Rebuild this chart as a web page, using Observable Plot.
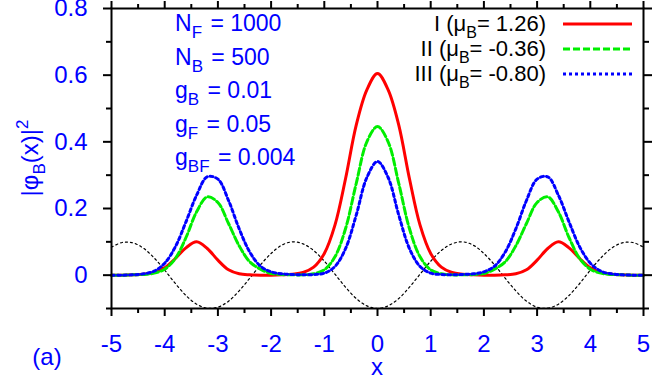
<!DOCTYPE html>
<html><head><meta charset="utf-8">
<script src="https://cdn.jsdelivr.net/npm/d3@7"></script>
<script src="https://cdn.jsdelivr.net/npm/@observablehq/plot@0.6"></script>
<style>
body{margin:0;background:#fff}
svg{font-family:"Liberation Sans",Arial,Helvetica,sans-serif}
</style>
</head><body><div id="chart"></div>
<script>
const xs = [-5,-4.8,-4.6,-4.4,-4.2,-4,-3.8,-3.6,-3.4,-3.2,-3,-2.8,-2.6,-2.4,-2.2,-2,-1.8,-1.6,-1.4,-1.2,-1,-0.8,-0.6,-0.4,-0.2,0,0.2,0.4,0.6,0.8,1,1.2,1.4,1.6,1.8,2,2.2,2.4,2.6,2.8,3,3.2,3.4,3.6,3.8,4,4.2,4.4,4.6,4.8,5];
const seriesI = [0,0,0.001,0.003,0.008,0.022,0.05,0.082,0.1,0.08,0.045,0.016,0.004,0.001,0,0,0.001,0.003,0.008,0.024,0.065,0.15,0.29,0.45,0.556,0.605,0.556,0.45,0.29,0.15,0.065,0.024,0.008,0.003,0.001,0,0,0.001,0.004,0.016,0.045,0.08,0.1,0.082,0.05,0.022,0.008,0.003,0.001,0,0];
const seriesII = [0,0,0.001,0.002,0.006,0.018,0.05,0.113,0.19,0.235,0.218,0.155,0.088,0.04,0.018,0.005,0.002,0.001,0.001,0.004,0.016,0.055,0.14,0.275,0.40,0.446,0.40,0.275,0.14,0.055,0.016,0.004,0.001,0.001,0.002,0.005,0.018,0.04,0.088,0.155,0.218,0.235,0.19,0.113,0.05,0.018,0.006,0.002,0.001,0,0];
const seriesIII = [0,0,0.001,0.004,0.012,0.036,0.085,0.16,0.24,0.295,0.288,0.224,0.139,0.069,0.027,0.01,0.004,0.002,0.001,0.002,0.006,0.026,0.08,0.18,0.293,0.341,0.293,0.18,0.08,0.026,0.006,0.002,0.001,0.002,0.004,0.01,0.027,0.069,0.139,0.224,0.288,0.295,0.24,0.16,0.085,0.036,0.012,0.004,0.001,0,0];
const potential = [0.084,0.098,0.097,0.081,0.052,0.015,-0.025,-0.061,-0.087,-0.099,-0.096,-0.078,-0.047,-0.009,0.031,0.065,0.090,0.100,0.094,0.074,0.042,0.003,-0.036,-0.070,-0.092,-0.1,-0.092,-0.070,-0.036,0.003,0.042,0.074,0.094,0.100,0.090,0.065,0.031,-0.009,-0.047,-0.078,-0.096,-0.099,-0.087,-0.061,-0.025,0.015,0.052,0.081,0.097,0.098,0.084];

const xTicks = [-5,-4,-3,-2,-1,0,1,2,3,4,5];
const xMinor = [-4.5,-3.5,-2.5,-1.5,-0.5,0.5,1.5,2.5,3.5,4.5];
const yTicks = [0,0.2,0.4,0.6,0.8];
const yMinor = [-0.1,0.1,0.3,0.5,0.7];

const legendNames = ["I", "II", "III"];
const legendMu = ["1.26", "-0.36", "-0.80"];
const notes = [["N","F","1000"],["N","B","500"],["g","B","0.01"],["g","F","0.05"],["g","BF","0.004"]];

const rows = xs.map((x, i) => ({x, I: seriesI[i], II: seriesII[i], III: seriesIII[i], V: potential[i]}));

const fmt = d => String(d);
const blank = () => "";

const svg = Plot.plot({
  width: 664, height: 380,
  marginLeft: 111, marginRight: 21, marginTop: 8, marginBottom: 72,
  x: {domain: [-5, 5], axis: null},
  y: {domain: [-0.1, 0.8], axis: null},
  style: {background: "white", fontFamily: "'Liberation Sans', Arial, sans-serif"},
  marks: [
    Plot.line(rows, {x: "x", y: "V", stroke: "black", strokeWidth: 1.2, strokeDasharray: "2,3", curve: "catmull-rom"}),
    Plot.line(rows, {x: "x", y: "I", stroke: "#ff0000", strokeWidth: 3, curve: "catmull-rom"}),
    Plot.line(rows, {x: "x", y: "II", stroke: "#00ee00", strokeWidth: 3, strokeDasharray: "7,3", curve: "catmull-rom"}),
    Plot.line(rows, {x: "x", y: "III", stroke: "#0000ff", strokeWidth: 3, strokeDasharray: "3,3", curve: "catmull-rom"}),
    Plot.frame({stroke: "black", strokeWidth: 2}),
    Plot.axisX({anchor: "bottom", ticks: xTicks, tickSize: 8, tickPadding: 18, tickFormat: fmt, fill: "#0000ff", stroke: "black", strokeWidth: 2, fontSize: 24, label: null}),
    Plot.axisX({anchor: "bottom", ticks: xMinor, tickSize: 5, tickFormat: blank, stroke: "black", strokeWidth: 2, label: null}),
    Plot.axisX({anchor: "top", ticks: xTicks, tickSize: 8, tickFormat: blank, stroke: "black", strokeWidth: 2, label: null}),
    Plot.axisX({anchor: "top", ticks: xMinor, tickSize: 5, tickFormat: blank, stroke: "black", strokeWidth: 2, label: null}),
    Plot.axisY({anchor: "left", ticks: yTicks, tickSize: 8, tickPadding: 16, tickFormat: fmt, fill: "#0000ff", stroke: "black", strokeWidth: 2, fontSize: 24, label: null}),
    Plot.axisY({anchor: "left", ticks: yMinor, tickSize: 5, tickFormat: blank, stroke: "black", strokeWidth: 2, label: null}),
    Plot.axisY({anchor: "right", ticks: yTicks, tickSize: 8, tickFormat: blank, stroke: "black", strokeWidth: 2, label: null}),
    Plot.axisY({anchor: "right", ticks: yMinor, tickSize: 5, tickFormat: blank, stroke: "black", strokeWidth: 2, label: null})
  ]
});

const s = d3.select(svg);
function rich(x, y, parts, opts = {}) {
  const size = opts.size || 24, small = opts.small || 17;
  const t = s.append("text").attr("x", x).attr("y", y)
    .attr("font-size", size).attr("fill", opts.fill || "black")
    .attr("text-anchor", opts.anchor || "start");
  if (opts.transform) t.attr("transform", opts.transform);
  let shift = 0;
  for (const p of parts) {
    const target = p.sub ? 7 : p.sup ? -10 : 0;
    const ts = t.append("tspan").attr("dy", target - shift).attr("font-size", (p.sub || p.sup) ? small : size).text(p.t);
    if (p.dx) ts.attr("dx", p.dx);
    shift = target;
  }
  return t;
}

// parameter annotations
notes.forEach((n, i) => {
  rich(175, 31 + i * 33.5, [{t: n[0]}, {t: n[1], sub: true}, {t: " = " + n[2], dx: 2}], {fill: "#0000ff", size: 23});
});

// legend
const legendStyles = [
  {stroke: "#ff0000", dash: null},
  {stroke: "#00ee00", dash: "7,3"},
  {stroke: "#0000ff", dash: "3,3"}
];
legendNames.forEach((nm, i) => {
  const yb = 31 + i * 25;
  rich(546, yb, [{t: nm + " (μ"}, {t: "B", sub: true}, {t: "= " + legendMu[i] + ")"}], {anchor: "end", size: 22, small: 16});
  const l = s.append("line").attr("x1", 563).attr("x2", 632).attr("y1", yb - 7).attr("y2", yb - 7)
    .attr("stroke", legendStyles[i].stroke).attr("stroke-width", 3);
  if (legendStyles[i].dash) l.attr("stroke-dasharray", legendStyles[i].dash);
});

// axis titles
rich(0, 0, [{t: "|φ"}, {t: "B", sub: true}, {t: "(x)|"}, {t: "2", sup: true}], {fill: "#0000ff", anchor: "middle", transform: "translate(38,158) rotate(-90)"});
rich(377, 375, [{t: "x"}], {fill: "#0000ff", anchor: "middle"});
rich(47, 365, [{t: "(a)"}], {fill: "#0000ff", anchor: "middle"});

document.getElementById("chart").appendChild(svg);
</script>
</body></html>
